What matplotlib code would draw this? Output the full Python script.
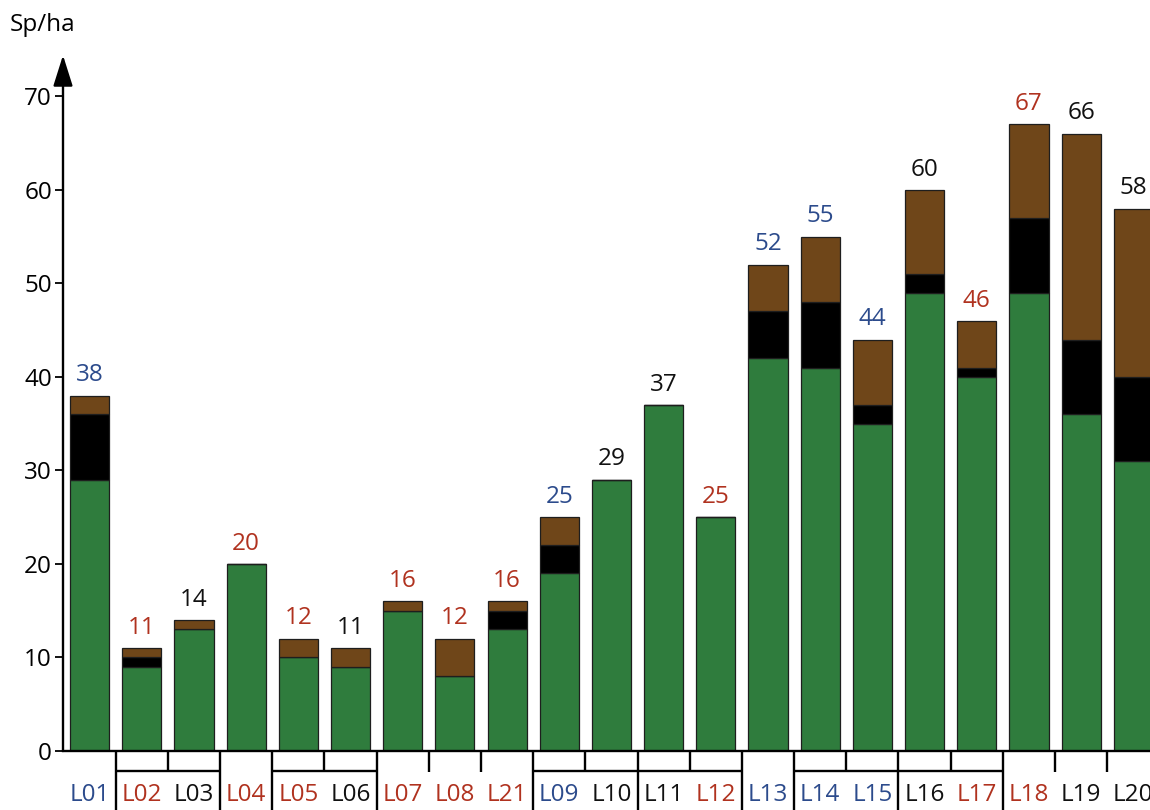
import matplotlib
matplotlib.use("Agg")
import matplotlib.pyplot as plt

plt.rcParams["font.family"] = ["Open Sans", "DejaVu Sans"]

# ---------------------------------------------------------------------
# Data
# ---------------------------------------------------------------------
sites = ["L01", "L02", "L03", "L04", "L05", "L06", "L07", "L08", "L21", "L09",
         "L10", "L11", "L12", "L13", "L14", "L15", "L16", "L17", "L18", "L19", "L20"]
green = [29, 9, 13, 20, 10, 9, 15, 8, 13, 19, 29, 37, 25, 42, 41, 35, 49, 40, 49, 36, 31]
black = [7, 1, 0, 0, 0, 0, 0, 0, 2, 3, 0, 0, 0, 5, 7, 2, 2, 1, 8, 8, 9]
brown = [2, 1, 1, 0, 2, 2, 1, 4, 1, 3, 0, 0, 0, 5, 7, 7, 9, 5, 10, 22, 18]
totals = [38, 11, 14, 20, 12, 11, 16, 12, 16, 25, 29, 37, 25, 52, 55, 44, 60, 46, 67, 66, 58]
# b = blue, r = red, k = black
label_tone = ["b", "r", "k", "r", "r", "k", "r", "r", "r", "b",
              "k", "k", "r", "b", "b", "b", "k", "r", "r", "k", "k"]

# separator under the axis between site i and i+1
separators = ["full", "short", "full", "full", "short", "full", "short", "short", "full", "short",
              "full", "short", "full", "full", "short", "full", "short", "full", "short", "short"]
paired = [(1, 2), (4, 5), (9, 10), (11, 12), (14, 15), (16, 17)]

yticks = [0, 10, 20, 30, 40, 50, 60, 70]

# ---------------------------------------------------------------------
# Styles
# ---------------------------------------------------------------------
GREEN = "#2f7c3d"
BLACK = "#000000"
BROWN = "#6f4619"
TONES = {"b": "#2c4b8c", "r": "#b0321f", "k": "#111111"}
FONT = 17.5


def main() -> None:
    fig = plt.figure(figsize=(11.5, 8.1), dpi=100)
    ax = fig.add_axes([63 / 1150, 59 / 810, 1 - 63 / 1150, 692 / 810])
    ax.set_xlim(-0.51, 20.32)
    ax.set_ylim(0, 74)

    x = list(range(len(sites)))
    bottom_brown = [g + b for g, b in zip(green, black)]
    kw = dict(width=0.75, edgecolor="#1e1e1e", linewidth=0.9, zorder=2)
    ax.bar(x, green, color=GREEN, **kw)
    ax.bar(x, black, bottom=green, color=BLACK, **kw)
    ax.bar(x, brown, bottom=bottom_brown, color=BROWN, **kw)

    for i, total in enumerate(totals):
        ax.annotate(str(total), (i, total), xytext=(0, 6), textcoords="offset points",
                    ha="center", va="bottom", fontsize=FONT,
                    color=TONES[label_tone[i]], annotation_clip=False)
        ax.text(i, -4.7, sites[i], ha="center", va="center", fontsize=FONT,
                color=TONES[label_tone[i]], clip_on=False)

    # bracket lines below the axis
    line_kw = dict(color="black", linewidth=1.7, clip_on=False, solid_capstyle="butt")
    for i, kind in enumerate(separators):
        bx = i + 0.5
        low = -7 if kind == "full" else -2.2
        ax.plot([bx, bx], [0, low], **line_kw)
    for a, b in paired:
        ax.plot([a - 0.5, b + 0.5], [-2.15, -2.15], **line_kw)

    # axes
    for side in ["top", "right", "left"]:
        ax.spines[side].set_visible(False)
    ax.spines["bottom"].set_linewidth(1.7)
    ax.annotate("", xy=(-0.51, 74.4), xytext=(-0.51, 0),
                arrowprops=dict(arrowstyle="-|>,head_length=1.9,head_width=0.6",
                                color="black", linewidth=1.7, shrinkA=0, shrinkB=0),
                annotation_clip=False)

    ax.set_yticks(yticks)
    ax.set_yticklabels([str(t) for t in yticks], fontsize=FONT)
    ax.tick_params(axis="y", length=6, width=1.3, pad=2)
    ax.set_xticks([])

    fig.text(10 / 1150, 1 - 25 / 810, "Sp/ha", fontsize=FONT, ha="left", va="center")

    fig.savefig("out.png", dpi=100)


if __name__ == "__main__":
    main()
